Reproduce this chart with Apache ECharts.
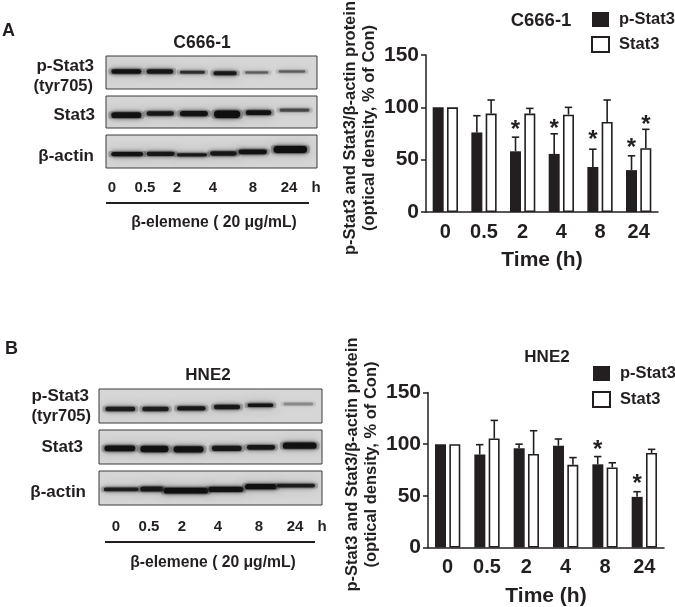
<!DOCTYPE html>
<html><head><meta charset="utf-8">
<style>html,body{margin:0;padding:0;background:#fff}#c{width:675px;height:607px}</style>
<script src="https://cdn.jsdelivr.net/npm/echarts@6/dist/echarts.min.js"></script>
</head><body><div id="c"></div>
<script>
var categories = ['0','0.5','2','4','8','24'];
var legendNames = ['p-Stat3','Stat3'];
var yTitle = 'p-Stat3 and Stat3/β-actin protein\n(optical density, % of Con)';

// Panel A
var pStatA    = [100, 76, 58, 55.5, 43, 40];
var pStatATop = [null, 92, 71.5, 74.7, 60, 53.7];
var statA     = [100, 94, 94, 93, 86, 61];
var statATop  = [null, 107, 99, 100, 107, 79];
var pStarA    = [null, null, 83, 84, 73, 66];
var sStarA    = [null, null, null, null, null, 88];

// Panel B
var pStatB    = [100, 90, 96, 98.5, 80.5, 49];
var pStatBTop = [null, 99.5, 100, 105, 88, 54];
var statB     = [100, 105.5, 90.5, 80, 77.5, 91.5];
var statBTop  = [null, 123, 113, 87, 82, 95];
var pStarB    = [null, null, null, null, 99, 65.5];
var sStarB    = [null, null, null, null, null, null];

// Blot bands: [start %, end %, centre %, thickness %, darkness]
var blotApStat = [[2.5,16.8,47,14,.95],[19.2,31.9,47,14,.9],[35,46.9,49,9,.75],[50.9,62,52,12,.9],[65.9,77,50,7,.5],[81.8,94.5,47,7,.5]];
var blotAStat  = [[2.5,16.8,60,18,.95],[19.2,32.2,55,14,.9],[35,48.3,55,17,.95],[51.2,63.6,57,23,1],[66.2,78.4,52,15,.95],[82.2,96.5,44,10,.6]];
var blotAActin = [[2.5,17.6,58,13,.95],[19.2,32.6,57,13,.9],[33.6,47.9,60,10,.9],[49.3,62,56,13,.9],[62.8,76.3,51,14,.95],[79.4,95.3,44,21,1]];
var blotBpStat = [[2.8,16.3,59,13,.85],[19.4,31.3,59,13,.85],[35,47.8,57,12,.9],[51.5,63.3,53,13,.9],[66.6,78.2,48,10,.95],[82.7,96.1,44,9,.3]];
var blotBStat  = [[2.4,16.3,54,17,.95],[18.5,31.2,56,19,.95],[33.4,46.9,57,18,.95],[50.6,64,54,15,.9],[66.3,79,51,14,.9],[82.4,97.6,46,19,.95]];
var blotBActin = [[2.1,17.8,54,11,.85],[18.5,29,53,15,.9],[29,49,58,17,1],[49,64.8,54,15,.95],[65.5,79.7,46,16,1],[79.7,96.9,43,11,.85]];

// Text labels around the blots
var laneLabels = ['0','0.5','2','4','8','24','h'];
var laneXA = [112,145,177,213,253,289,316];
var laneXB = [116,149,182,218,259,295,322];
var ink = '#231f20';
var FONT = '"Liberation Sans", Arial, sans-serif';

function txt(s, x, y, size, align) {
  return {type:'text', x:x, y:y, silent:true, style:{text:s, fill:ink, font:'bold '+size+'px '+FONT, textAlign:align||'center', textVerticalAlign:'middle'}};
}
function rule(x1, x2, y) {
  return {type:'line', silent:true, shape:{x1:x1,y1:y,x2:x2,y2:y}, style:{stroke:ink,lineWidth:2}};
}
var graphics = [
  txt('A',2,31,18,'left'), txt('C666-1',202,43,17.5),
  txt('p-Stat3',94,66,17,'right'), txt('(tyr705)',93,86,16.5,'right'), txt('Stat3',95,115,17,'right'), txt('β-actin',94,156,17,'right'),
  rule(106,309,203), txt('β-elemene ( 20 μg/mL)',214,223,15.7), txt('C666-1',541,21,18.5),
  txt('B',5,349,18,'left'), txt('HNE2',208,375,17),
  txt('p-Stat3',89,396,17,'right'), txt('(tyr705)',91,416,16.5,'right'), txt('Stat3',83,447,17,'right'), txt('β-actin',86,492,17,'right'),
  rule(105,315,542), txt('β-elemene ( 20 μg/mL)',213,563,15.7), txt('HNE2',547,357,17)
];
laneLabels.forEach(function(l,i){
  graphics.push(txt(l,laneXA[i],188,15));
  graphics.push(txt(l,laneXB[i],527,15));
});

// Charts: grid geometry
var charts = [
  {g:{left:426,top:55,width:232,height:157}, p:pStatA,pt:pStatATop,s:statA,st:statATop,ps:pStarA,ss:sStarA, gap:47, pad:11, ngap:38},
  {g:{left:428,top:392.5,width:236,height:155}, p:pStatB,pt:pStatBTop,s:statB,st:statBTop,ps:pStarB,ss:sStarB, gap:47, pad:11, ngap:38}
];
var blots = [
  {g:{left:106,top:56,width:211,height:33}, d:blotApStat},
  {g:{left:106,top:96,width:211,height:32}, d:blotAStat},
  {g:{left:106,top:135,width:211,height:33}, d:blotAActin},
  {g:{left:99,top:389,width:223,height:34}, d:blotBpStat},
  {g:{left:99,top:430,width:223,height:34}, d:blotBStat},
  {g:{left:99,top:471,width:223,height:34}, d:blotBActin}
];

var grid=[], xAxis=[], yAxis=[], series=[];

function errRender(sign){
  return function(params, api){
    var top = api.value(2);
    if (top == null || isNaN(top)) return null;
    var off = api.size([1,0])[0]*0.185*sign;
    var a = api.coord([api.value(0), api.value(1)]);
    var b = api.coord([api.value(0), top]);
    var x = a[0]+off;
    var st = {stroke:ink, lineWidth:1.6};
    return {type:'group', children:[
      {type:'line', shape:{x1:x,y1:a[1],x2:x,y2:b[1]}, style:st},
      {type:'line', shape:{x1:x-3.7,y1:b[1],x2:x+3.7,y2:b[1]}, style:st}
    ]};
  };
}
function starRender(sign){
  return function(params, api){
    var v = api.value(1);
    if (v == null || isNaN(v)) return null;
    var off = api.size([1,0])[0]*0.185*sign;
    var c = api.coord([api.value(0), v]);
    return {type:'text', x:c[0]+off, y:c[1]+5, style:{text:'*', fill:ink, font:'bold 24px '+FONT, textAlign:'center', textVerticalAlign:'middle'}};
  };
}
function rows(v, t){ return v.map(function(x,i){ return t ? [i,x,t[i]] : [i,x]; }); }

charts.forEach(function(c,i){
  grid.push(Object.assign({outerBoundsMode:'none'}, c.g));
  xAxis.push({type:'category', gridIndex:i, data:categories,
    name:'Time (h)', nameLocation:'middle', nameGap:c.ngap,
    nameTextStyle:{fontFamily:FONT,fontWeight:'bold',fontSize:21,color:ink},
    axisLine:{lineStyle:{color:ink,width:1.5}}, axisTick:{alignWithLabel:true,length:5,lineStyle:{color:ink,width:1.5}},
    axisLabel:{fontFamily:FONT,fontWeight:'bold',fontSize:20,color:ink,margin:10,interval:0}});
  yAxis.push({type:'value', gridIndex:i, min:0, max:150, interval:50,
    name:yTitle, nameLocation:'middle', nameRotate:90, nameGap:c.gap,
    nameTextStyle:{fontFamily:FONT,fontWeight:'bold',fontSize:16.5,color:ink,lineHeight:19,padding:[0,0,0,c.pad]},
    splitLine:{show:false},
    axisLine:{show:true,lineStyle:{color:ink,width:1.5}}, axisTick:{show:true,length:5,lineStyle:{color:ink,width:1.5}},
    axisLabel:{fontFamily:FONT,fontWeight:'bold',fontSize:21,color:ink,margin:7}});
  series.push({type:'bar', name:'p-Stat3', xAxisIndex:i, yAxisIndex:i, data:c.p, barWidth:11, barGap:'30%',
    itemStyle:{color:ink}});
  series.push({type:'bar', name:'Stat3', xAxisIndex:i, yAxisIndex:i, data:c.s, barWidth:11, barGap:'30%',
    itemStyle:{color:'#fff',borderColor:ink,borderWidth:1.6}});
  [[c.p,c.pt,-1],[c.s,c.st,1]].forEach(function(e){
    series.push({type:'custom', xAxisIndex:i, yAxisIndex:i, z:3, data:rows(e[0],e[1]), renderItem:errRender(e[2]), encode:{x:0,y:1}, silent:true, clip:false});
  });
  [[c.ps,-1],[c.ss,1]].forEach(function(e){
    series.push({type:'custom', xAxisIndex:i, yAxisIndex:i, z:4, data:rows(e[0]), renderItem:starRender(e[1]), encode:{x:0,y:1}, silent:true, clip:false});
  });
});

function bandRender(params, api){
  var a = api.coord([api.value(0), api.value(2)]);
  var b = api.coord([api.value(1), api.value(2)+api.value(3)/2]);
  var d = api.value(4);
  var x = Math.min(a[0], b[0]), w = Math.abs(b[0]-a[0]), h = Math.abs(b[1]-a[1])*2;
  var rect = {x:x, y:a[1]-h/2, width:w, height:h, r:h/2};
  return {type:'group', children:[
    {type:'rect', shape:{x:rect.x-3, y:rect.y-1, width:w+6, height:h+2, r:h/2},
      style:{fill:'rgba(60,60,60,'+(d*0.3)+')', shadowBlur:12, shadowColor:'rgba(50,50,50,'+(d*0.7)+')'}},
    {type:'rect', shape:rect,
      style:{fill:'rgba(15,15,15,'+d+')', shadowBlur:4, shadowColor:'rgba(15,15,15,'+(d*0.9)+')'}}
  ]};
}
blots.forEach(function(b,k){
  var i = k+2;
  var g = Object.assign({show:true, outerBoundsMode:'none', backgroundColor:'#d6d6d6', borderColor:'#3a3a3a', borderWidth:1}, b.g);
  grid.push(g);
  xAxis.push({type:'value', gridIndex:i, min:0, max:100, show:false});
  yAxis.push({type:'value', gridIndex:i, min:0, max:100, inverse:true, show:false});
  series.push({type:'custom', xAxisIndex:i, yAxisIndex:i, data:b.d, renderItem:bandRender, encode:{x:[0,1],y:2}, silent:true, clip:true});
});

var legendBase = {orient:'vertical', data:legendNames, itemWidth:17, itemHeight:15, itemGap:8, selectedMode:false, icon:'rect',
  textStyle:{fontFamily:FONT,fontWeight:'bold',fontSize:16.5,color:ink,padding:[0,0,0,5]}, padding:0};
var chart = echarts.init(document.getElementById('c'), null, {renderer:'canvas', width:675, height:607});
chart.setOption({
  animation:false, backgroundColor:'#fff',
  legend:[Object.assign({left:591,top:11},legendBase), Object.assign({left:592,top:365},legendBase,{itemGap:9})],
  grid:grid, xAxis:xAxis, yAxis:yAxis, series:series,
  graphic:{elements:graphics}
});
</script></body></html>
